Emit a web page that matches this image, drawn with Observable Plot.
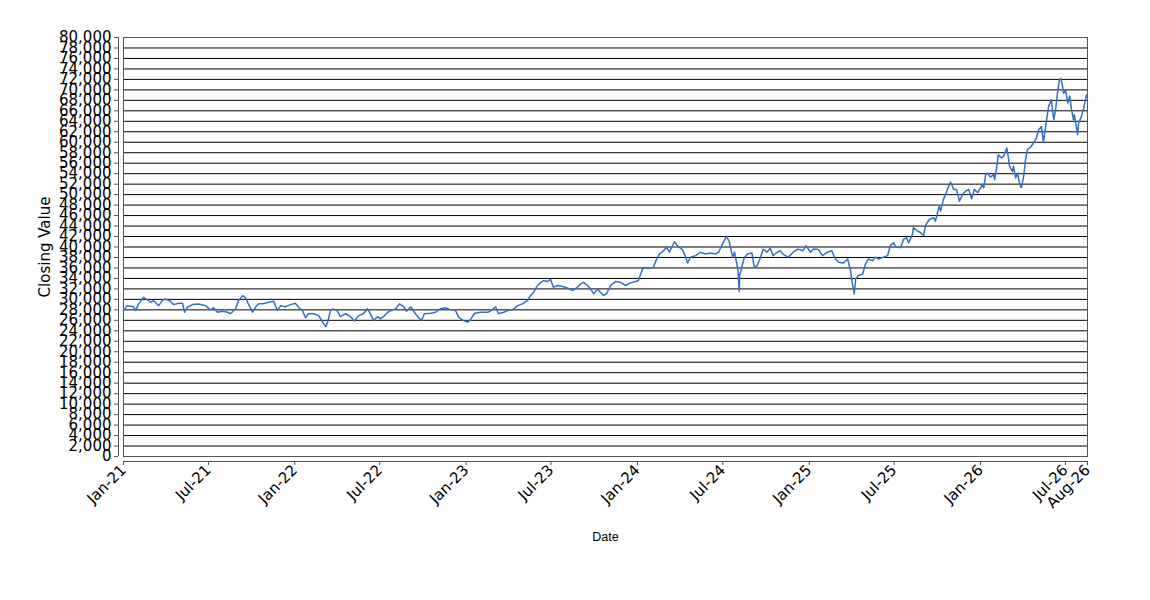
<!DOCTYPE html>
<html>
<head>
<meta charset="utf-8">
<script src="https://cdn.jsdelivr.net/npm/d3@7"></script>
<script src="https://cdn.jsdelivr.net/npm/@observablehq/plot@0.6"></script>
<style>
  html, body { margin: 0; padding: 0; background: white; }
  #chart svg { display: block; }
</style>
</head>
<body>
<div id="chart"></div>
<script>
const dates = [
"2021-01-01","2021-01-09","2021-01-22","2021-01-27","2021-02-02","2021-02-13","2021-02-21","2021-02-28","2021-03-06","2021-03-17",
"2021-03-25","2021-03-31","2021-04-11","2021-04-18","2021-04-28","2021-05-07","2021-05-11","2021-05-17","2021-05-28","2021-06-10",
"2021-06-25","2021-07-05","2021-07-12","2021-07-20","2021-07-31","2021-08-11","2021-08-17","2021-08-28","2021-09-03","2021-09-12",
"2021-09-18","2021-09-24","2021-10-03","2021-10-09","2021-10-16","2021-10-26","2021-11-06","2021-11-17","2021-11-25","2021-12-02",
"2021-12-12","2021-12-23","2022-01-02","2022-01-09","2022-01-17","2022-01-24","2022-01-30","2022-02-10","2022-02-21","2022-03-01",
"2022-03-08","2022-03-12","2022-03-18","2022-03-24","2022-04-02","2022-04-08","2022-04-19","2022-04-30","2022-05-08","2022-05-17",
"2022-05-27","2022-06-05","2022-06-09","2022-06-18","2022-06-26","2022-07-03","2022-07-09","2022-07-18","2022-07-28","2022-08-04",
"2022-08-12","2022-08-21","2022-08-27","2022-09-05","2022-09-15","2022-09-22","2022-09-28","2022-10-04","2022-10-17","2022-10-28",
"2022-11-07","2022-11-18","2022-11-29","2022-12-09","2022-12-16","2022-12-26","2023-01-04","2023-01-10","2023-01-19","2023-02-01",
"2023-02-16","2023-02-22","2023-03-05","2023-03-11","2023-03-22","2023-04-01","2023-04-10","2023-04-21","2023-05-01","2023-05-12",
"2023-05-18","2023-05-25","2023-06-02","2023-06-09","2023-06-15","2023-06-23","2023-06-30","2023-07-06","2023-07-15","2023-07-25",
"2023-08-01","2023-08-07","2023-08-16","2023-08-26","2023-09-02","2023-09-08","2023-09-17","2023-09-23","2023-09-30","2023-10-08",
"2023-10-14","2023-10-21","2023-10-27","2023-11-05","2023-11-15","2023-11-26","2023-12-07","2023-12-17","2023-12-28","2024-01-03",
"2024-01-12","2024-01-18","2024-01-25","2024-02-04","2024-02-11","2024-02-17","2024-02-26","2024-03-03","2024-03-09","2024-03-20",
"2024-03-26","2024-04-06","2024-04-13","2024-04-17","2024-04-23","2024-05-04","2024-05-14","2024-05-25","2024-06-05","2024-06-15",
"2024-06-22","2024-06-30","2024-07-09","2024-07-15","2024-07-22","2024-07-26","2024-08-02","2024-08-05","2024-08-06","2024-08-08",
"2024-08-13","2024-08-16","2024-08-23","2024-09-01","2024-09-06","2024-09-12","2024-09-18","2024-09-25","2024-10-03","2024-10-10",
"2024-10-16","2024-10-25","2024-10-31","2024-11-06","2024-11-17","2024-11-28","2024-12-08","2024-12-19","2024-12-25","2025-01-04",
"2025-01-10","2025-01-21","2025-01-29","2025-02-09","2025-02-18","2025-02-26","2025-03-05","2025-03-15","2025-03-24","2025-03-30",
"2025-04-03","2025-04-07","2025-04-10","2025-04-16","2025-04-25","2025-05-01","2025-05-07","2025-05-16","2025-05-22","2025-05-29",
"2025-06-08","2025-06-17","2025-06-23","2025-06-30","2025-07-04","2025-07-15","2025-07-21","2025-07-27","2025-08-01","2025-08-09",
"2025-08-11","2025-08-20","2025-08-26","2025-09-02","2025-09-06","2025-09-14","2025-09-23","2025-09-27","2025-10-05","2025-10-08",
"2025-10-14","2025-10-19","2025-10-23","2025-10-29","2025-11-05","2025-11-11","2025-11-17","2025-11-24","2025-11-30","2025-12-07",
"2025-12-13","2025-12-19","2025-12-26","2026-01-01","2026-01-05","2026-01-08","2026-01-12","2026-01-16","2026-01-22","2026-01-29",
"2026-01-31","2026-02-04","2026-02-08","2026-02-15","2026-02-19","2026-02-26","2026-02-28","2026-03-04","2026-03-10","2026-03-12",
"2026-03-17","2026-03-21","2026-03-25","2026-03-29","2026-04-03","2026-04-07","2026-04-11","2026-04-18","2026-04-24","2026-04-30",
"2026-05-05","2026-05-11","2026-05-15","2026-05-22","2026-05-26","2026-06-01","2026-06-06","2026-06-10","2026-06-14","2026-06-18",
"2026-06-21","2026-06-25","2026-06-27","2026-07-01","2026-07-06","2026-07-10","2026-07-14","2026-07-18","2026-07-20","2026-07-27",
"2026-07-29","2026-08-04","2026-08-09","2026-08-15","2026-08-17"
];
const closingValues = [
27800,28800,28600,27900,29100,30400,29900,29450,29800,28800,
29800,30100,29650,29000,29250,29250,27550,28500,29000,29100,
28800,28000,28400,27550,27750,27550,27250,28200,29800,30700,
30300,29150,27550,28500,29150,29150,29450,29650,27900,28800,
28600,29000,29250,28500,27900,26500,27250,27250,26900,25650,
24800,25650,27900,28200,27750,26700,27250,26700,25850,26900,
27250,28200,27550,25950,26700,26300,26700,27550,28000,28200,
29150,28600,27750,28600,27250,26500,25950,27250,27350,27550,
28200,28400,28000,28000,26600,25950,25650,26100,27350,27550,
27550,27750,28600,27250,27550,27900,28000,28800,29150,29800,
30700,31350,32650,33250,33600,33400,33800,32300,32650,32450,
32300,32100,31700,32300,32950,33250,32650,32000,31050,32000,
31350,30750,31050,32650,33400,33250,32650,33150,33400,33600,
35800,36100,35950,36100,37700,38650,39300,39950,39000,41000,
40250,39500,38050,36950,38050,38350,39000,38650,38850,38650,
39000,40550,42050,40900,38050,39000,35800,31500,34850,35200,
37100,38050,38650,38850,36100,36450,37700,39600,39000,39750,
38350,39000,39300,38650,38050,39000,39600,39300,40250,39000,
39600,39500,38350,39000,39300,37700,37100,36950,37700,35500,
32950,31050,33900,34550,34850,36750,37700,37400,38050,37700,
38050,38350,40300,40800,40050,39900,41450,41800,40800,42400,
43700,43050,42750,42200,44150,45250,45600,44950,47800,46850,
49100,50050,51100,52400,51000,51000,48750,50050,50650,51000,
49200,51000,50350,51300,51900,51300,53800,54100,53350,53800,
52850,54900,57600,57000,57300,58900,57950,55400,54450,55400,
53200,54100,52200,51300,53500,56650,58600,59100,59850,60800,
62400,63000,59950,64300,66800,68100,64300,66200,69350,71900,
72200,70650,69350,70000,67450,68850,66200,64300,65250,61450,
63650,64900,66500,69050,68500
];
const xTickDates = ["2021-01-01","2021-07-01","2022-01-01","2022-07-01","2023-01-01","2023-07-01",
  "2024-01-01","2024-07-01","2025-01-01","2025-07-01","2026-01-01","2026-07-01","2026-08-17"];
const yTickValues = d3.range(0, 80001, 2000);
const xStart = "2021-01-01";
const xEnd = "2026-08-17";
const yLabel = "Closing Value";
const xLabel = "Date";

const parse = d3.utcParse("%Y-%m-%d");
const data = dates.map((d, i) => ({date: parse(d), value: closingValues[i]}));
const start = parse(xStart), end = parse(xEnd);
const xTicks = xTickDates.map(parse);

const chart = Plot.plot({
  width: 1150,
  height: 600,
  marginLeft: 123,
  marginRight: 63,
  marginTop: 37,
  marginBottom: 144,
  style: {fontFamily: "DejaVu Sans", background: "white", color: "black"},
  x: {type: "utc", domain: [start, end]},
  y: {domain: [0, 80000]},
  marks: [
    Plot.gridY(yTickValues, {stroke: "black", strokeOpacity: 1, strokeWidth: 1}),
    Plot.frame({stroke: "#555"}),
    Plot.ruleX([start], {y1: 0, y2: 80000, dx: -5, stroke: "#555"}),
    Plot.ruleY([0], {x1: start, x2: end, dy: 5, stroke: "#555"}),
    Plot.axisY(yTickValues, {tickSize: 4, tickPadding: 3, dx: -5, tickFormat: d3.format(","), fontSize: 15, label: null, stroke: "#555"}),
    Plot.axisX(xTicks, {tickSize: 4, tickPadding: 2, dy: 5, tickRotate: -45, tickFormat: d3.utcFormat("%b-%y"), fontSize: 15, label: null, stroke: "#555"}),
    Plot.line(data, {x: "date", y: "value", stroke: "#3370c5", strokeWidth: 1.5}),
    Plot.text([yLabel], {frameAnchor: "left", textAnchor: "middle", rotate: -90, dx: -78, fontSize: 15, fill: "black", fontFamily: "DejaVu Sans"}),
    Plot.text([xLabel], {frameAnchor: "bottom", textAnchor: "middle", dy: 84, fontSize: 12.5, fill: "black", fontFamily: "Liberation Sans"})
  ]
});
document.getElementById("chart").appendChild(chart);
</script>
</body>
</html>
